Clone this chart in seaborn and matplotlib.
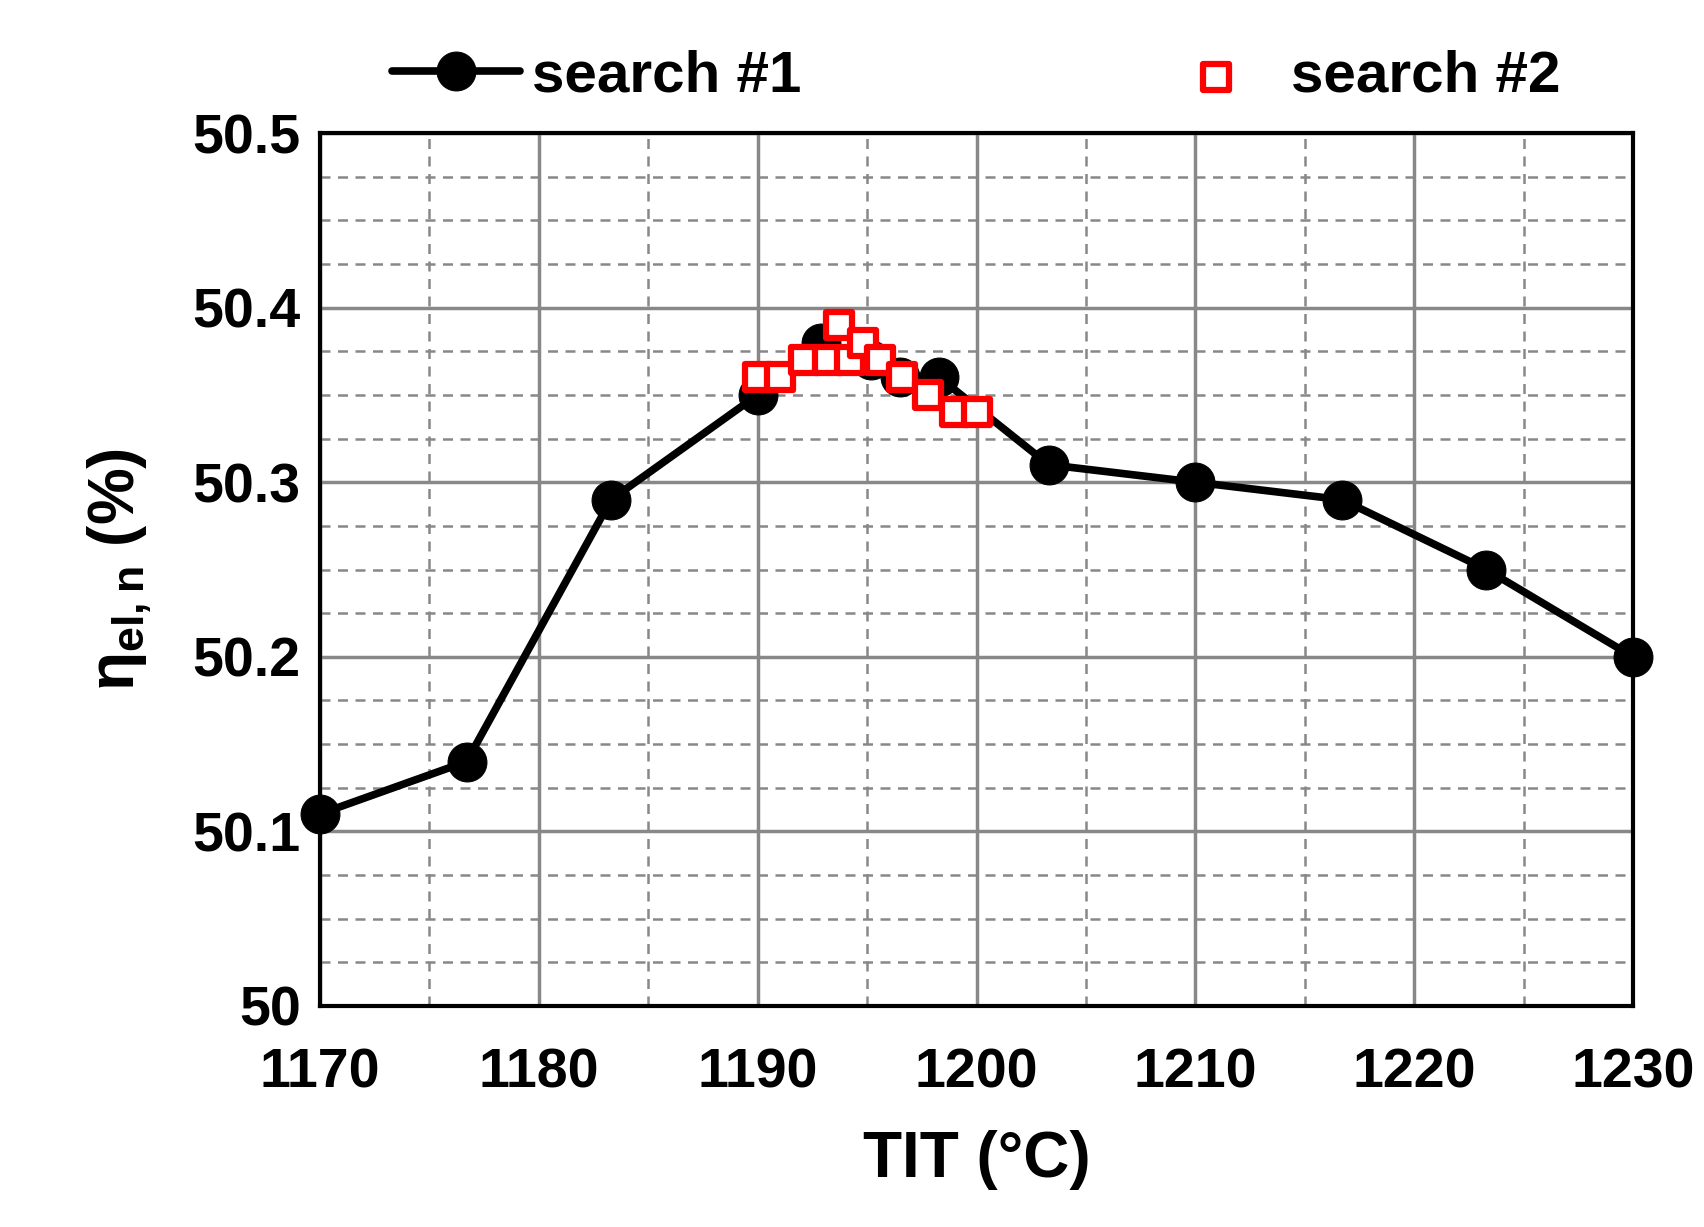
import matplotlib
matplotlib.use("Agg")
import matplotlib.pyplot as plt
import seaborn as sns
import pandas as pd
import numpy as np

s1_x = [1170, 1176.7, 1183.3, 1190, 1192.9, 1195.2, 1196.5, 1198.3, 1203.3, 1210, 1216.7, 1223.3, 1230]
s1_y = [50.11, 50.14, 50.29, 50.35, 50.38, 50.37, 50.36, 50.36, 50.31, 50.30, 50.29, 50.25, 50.20]
s2_x = [1190, 1191, 1192.1, 1193.2, 1193.7, 1194.2, 1194.8, 1195.6, 1196.6, 1197.8, 1199, 1200]
s2_y = [50.36, 50.36, 50.37, 50.37, 50.39, 50.37, 50.38, 50.37, 50.36, 50.35, 50.34, 50.34]

sns.set_style("white")
plt.rcParams['font.family'] = ['Liberation Sans', 'DejaVu Sans']
plt.rcParams['mathtext.fontset'] = 'custom'
plt.rcParams['mathtext.bf'] = 'Liberation Sans:bold'
plt.rcParams['text.color'] = 'black'
fig = plt.figure(figsize=(17.04, 12.27), dpi=100)
ax = fig.add_axes([320/1704, 1 - 1006/1227, (1633-320)/1704, (1006-133)/1227])

d1 = pd.DataFrame({"x": s1_x, "y": s1_y})
d2 = pd.DataFrame({"x": s2_x, "y": s2_y})
sns.lineplot(data=d1, x="x", y="y", ax=ax, color="black", linewidth=5.5, marker="o", markersize=28,
             markeredgecolor="black", label="search #1", sort=False, clip_on=False, zorder=4)
sns.scatterplot(data=d2, x="x", y="y", ax=ax, marker="s", s=330, facecolor="white",
                edgecolor="red", linewidth=4.5, label="search #2", zorder=5, clip_on=False)

ax.set_xlim(1170, 1230)
ax.set_ylim(50, 50.5)
ax.set_xticks(np.arange(1170, 1231, 10))
ax.set_yticks([50, 50.1, 50.2, 50.3, 50.4, 50.5])
ax.set_yticklabels(["50", "50.1", "50.2", "50.3", "50.4", "50.5"])
ax.set_xticks(np.arange(1175, 1230, 10), minor=True)
ax.set_yticks(np.arange(50.025, 50.5, 0.025), minor=True)
ax.grid(True, which="major", color="#888888", lw=2.5)
ax.grid(True, which="minor", color="#888888", lw=1.8, ls=(0, (4, 3)))
for s in ax.spines.values():
    s.set_color("black"); s.set_linewidth(3)
ax.tick_params(which="both", length=0, labelsize=40, colors="black")
ax.tick_params(axis="x", pad=30)
ax.tick_params(axis="y", pad=14)
for t in ax.get_xticklabels() + ax.get_yticklabels():
    t.set_fontweight("bold")
ax.set_xlabel("TIT (°C)", fontsize=46, fontweight="bold", labelpad=22, color="black")
ax.set_ylabel(r"$\mathbf{\eta_{el,n}}$ (%)", fontsize=46, fontweight="bold", labelpad=28, color="black")
leg = ax.legend(loc="lower center", bbox_to_anchor=(0.5, 1.0), ncol=2, frameon=False,
          prop={"size": 42, "weight": "bold"}, handlelength=2.2, handletextpad=0.2,
          columnspacing=6, borderaxespad=0.1)
fig.savefig("out.png", dpi=100)
